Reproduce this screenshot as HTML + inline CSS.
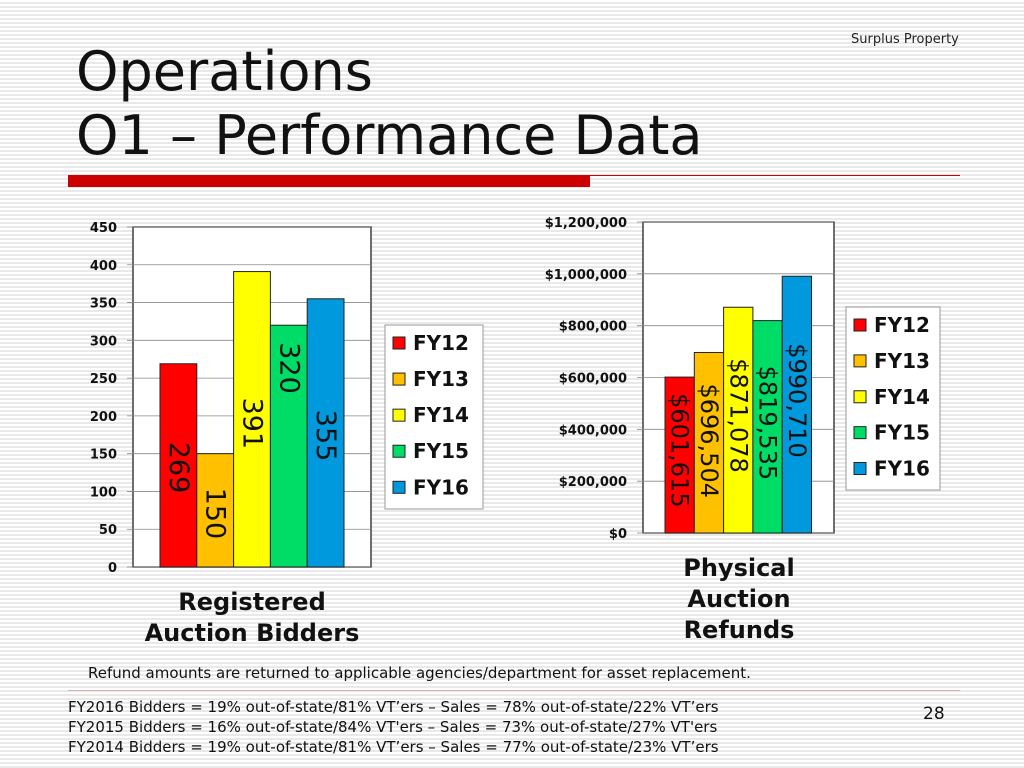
<!DOCTYPE html>
<html><head><meta charset="utf-8"><style>
body{margin:0;width:1024px;height:768px;overflow:hidden;font-family:"DejaVu Sans","Liberation Sans",sans-serif;
background:repeating-linear-gradient(to bottom,#fff 0,#fff 2px,#e9e9e9 2px,#e9e9e9 4px);position:relative}
.t{position:absolute;white-space:nowrap}
</style></head><body>
<div class="t" style="left:851px;top:32px;font-size:13px;color:#222">Surplus Property</div>
<div class="t" style="left:76px;top:40px;font-size:54px;line-height:64px;color:#111;font-family:'DejaVu Sans',sans-serif">Operations<br>O1 – Performance Data</div>
<div style="position:absolute;left:68px;top:175px;width:892px;height:1px;background:#c00"></div>
<div style="position:absolute;left:68px;top:175px;width:522px;height:12px;background:#c00"></div>
<svg id="c" width="1024" height="768" style="position:absolute;left:0;top:0" font-family="DejaVu Sans,Liberation Sans,sans-serif"></svg>
<div class="t" style="left:88px;top:664px;font-size:15px;color:#111">Refund amounts are returned to applicable agencies/department for asset replacement.</div>
<div style="position:absolute;left:68px;top:690px;width:892px;height:1px;background:#e0b0b0"></div>
<div class="t" style="left:68px;top:697px;font-size:15px;line-height:20px;color:#111">FY2016 Bidders = 19% out-of-state/81% VT’ers – Sales = 78% out-of-state/22% VT’ers<br>FY2015 Bidders = 16% out-of-state/84% VT'ers – Sales = 73% out-of-state/27% VT'ers<br>FY2014 Bidders = 19% out-of-state/81% VT’ers – Sales = 77% out-of-state/23% VT’ers</div>
<div class="t" style="left:923px;top:704px;font-size:17px;color:#111">28</div>
<script>
const years=["FY12","FY13","FY14","FY15","FY16"];
const colors=["#ff0000","#ffc000","#ffff00","#00dd66","#0099dd"];
const bidders=[269,150,391,320,355];
const bidderTicks=[0,50,100,150,200,250,300,350,400,450];
const refunds=[601615,696504,871078,819535,990710];
const refundLabels=["$601,615","$696,504","$871,078","$819,535","$990,710"];
const refundTicks=[0,200000,400000,600000,800000,1000000,1200000];
const refundTickLabels=["$0","$200,000","$400,000","$600,000","$800,000","$1,000,000","$1,200,000"];
const svg=document.getElementById('c');const NS="http://www.w3.org/2000/svg";
function mk(t,a,txt){const e=document.createElementNS(NS,t);for(const k in a)e.setAttribute(k,a[k]);if(txt!=null)e.textContent=txt;svg.appendChild(e);return e;}
function chart(o){
 const y=v=>o.y0-(v-o.min)/(o.max-o.min)*(o.y0-o.y1);
 const bg=mk('rect',{x:o.x0,y:o.y1,width:o.x1-o.x0,height:o.y0-o.y1,fill:'#fff',stroke:'#222','stroke-width':1.3});
 
 
 o.ticks.forEach((t,i)=>{
  const gl=mk('line',{x1:o.x0-6,x2:o.x1,y1:y(t),y2:y(t),stroke:'#888','stroke-width':0.8});
  
  
  const tl=mk('text',{x:o.x0-16,y:y(t)+5,'text-anchor':'end','font-size':13,'font-weight':'bold',fill:'#111'},o.tickLabels[i]);
  
  
 });
 o.vals.forEach((v,i)=>{
  const x=o.bx+i*o.bw;
  const r=mk('rect',{x:x,y:y(v),width:o.bw,height:y(o.min)-y(v),fill:colors[i],stroke:'#222','stroke-width':1});
  
  
  const cx=x+o.bw/2, cy=y(v)+o.lblOff[i];
  const t=mk('text',{x:cx,y:cy,transform:`rotate(90 ${cx} ${cy})`,'font-size':o.lfs,'dominant-baseline':'central',fill:'#111'},o.labels[i]);
  
  
 });
 const lg=mk('rect',{x:o.lx,y:o.ly,width:o.lw,height:o.lh,fill:'#fff',stroke:'#999'});
 
 
 years.forEach((yr,i)=>{
  const yy=o.ly+19+i*o.lh/5.1;
  const s=mk('rect',{x:o.lx+8,y:yy-7,width:12,height:12,fill:colors[i],stroke:'#222'});
  
  
  const t=mk('text',{x:o.lx+28,y:yy+6,'font-size':20,'font-weight':'bold',fill:'#111'},yr);
  
  
 });
 o.title.forEach((ln,i)=>{
  const t=mk('text',{x:o.tx,y:o.ty+i*31,'text-anchor':'middle','font-size':24,'font-weight':'bold',fill:'#111'},ln);
  
  
 });
}
chart({id:'bidders',x0:133,x1:371,y0:567,y1:227,min:0,max:450,ticks:bidderTicks,tickLabels:bidderTicks.map(String),
 vals:bidders,labels:bidders.map(String),bx:160,bw:36.8,lfs:27,lblOff:[78,34,126,17,111],
 lx:385,ly:325,lw:98,lh:184,title:["Registered","Auction Bidders"],tx:252,ty:610});
chart({id:'refunds',x0:643,x1:834,y0:533,y1:222,min:0,max:1200000,ticks:refundTicks,tickLabels:refundTickLabels,
 vals:refunds,labels:refundLabels,bx:665,bw:29.3,lfs:24,lblOff:[16,31,51,45,67],
 lx:846,ly:307,lw:94,lh:183,title:["Physical","Auction","Refunds"],tx:739,ty:576});
</script>
</body></html>
